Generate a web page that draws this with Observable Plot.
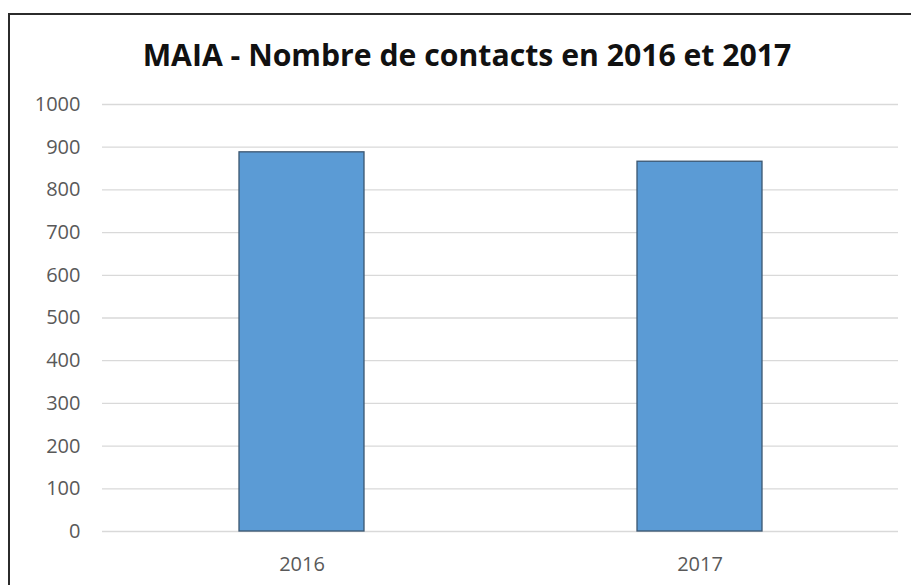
<!DOCTYPE html>
<html>
<head>
<meta charset="utf-8">
<script src="https://cdn.jsdelivr.net/npm/d3@7"></script>
<script src="https://cdn.jsdelivr.net/npm/@observablehq/plot@0.6"></script>
<style>
  html, body { margin: 0; padding: 0; background: #fff; }
  #wrap { position: relative; width: 911px; height: 585px; overflow: hidden; background: #fff; }
  #frame { position: absolute; left: 8px; top: 13px; width: 1000px; height: 1000px;
           border-left: 2px solid #2b2b2b; border-top: 2px solid #2b2b2b; box-sizing: border-box; }
  #title { position: absolute; left: 0; top: 0; width: 911px; height: 90px;
           font-family: "Open Sans", sans-serif; font-weight: 700; font-size: 30.2px;
           color: #111; text-align: center; line-height: 1; }
  #title span { position: absolute; left: 467px; top: 40px; transform: translateX(-50%); white-space: nowrap; }
  #chart { position: absolute; left: 0; top: 90px; }
</style>
</head>
<body>
<div id="wrap">
  <div id="frame"></div>
  <div id="title"><span>MAIA - Nombre de contacts en 2016 et 2017</span></div>
  <div id="chart"></div>
</div>
<script>
const years = ["2016", "2017"];
const contacts = [888, 866];
const yTicks = [0, 100, 200, 300, 400, 500, 600, 700, 800, 900, 1000];

const data = years.map((y, i) => ({year: y, value: contacts[i]}));

const plot = Plot.plot({
  width: 911,
  height: 495,
  marginTop: 14,
  marginBottom: 54,
  marginLeft: 102,
  marginRight: 13,
  style: {fontFamily: "Open Sans, sans-serif", fontSize: "20px", color: "#595959", background: "transparent"},
  x: {domain: years, paddingInner: 0.686, paddingOuter: 0.343, label: null},
  y: {domain: [0, 1000], ticks: yTicks, label: null},
  marks: [
    Plot.ruleY(yTicks, {stroke: "#d9d9d9", strokeWidth: 1.3}),
    Plot.barY(data, {x: "year", y: "value", fill: "#5b9bd5", stroke: "#3b5670", strokeWidth: 1.3}),
    Plot.axisY({ticks: yTicks, tickFormat: d => String(d), tickSize: 0, tickPadding: 22, fill: "#595959", fontSize: 20}),
    Plot.axisX({tickSize: 0, tickPadding: 25, fill: "#595959", fontSize: 20})
  ]
});
document.getElementById("chart").appendChild(plot);
</script>
</body>
</html>
